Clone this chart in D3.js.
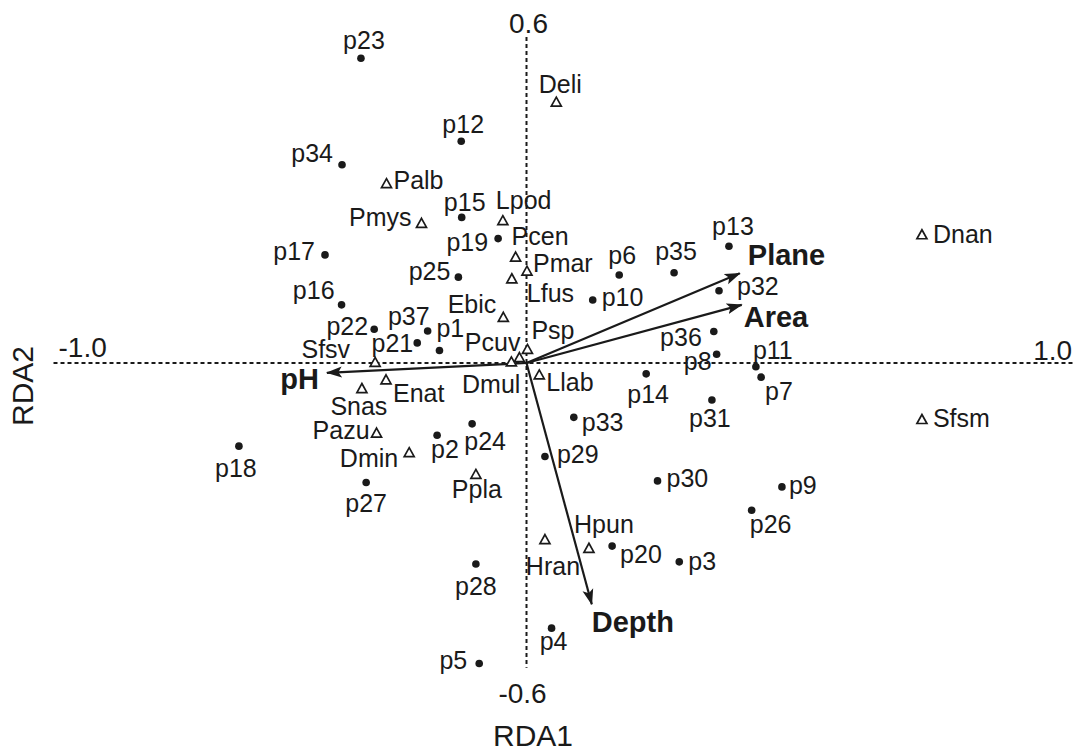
<!DOCTYPE html>
<html>
<head>
<meta charset="utf-8">
<script src="https://cdn.jsdelivr.net/npm/d3@7"></script>
<style>
  html, body { margin: 0; background: #fff; }
  svg { display: block; }
  text { font-family: "Liberation Sans", Arial, Helvetica, sans-serif; fill: #1a1a1a; }
</style>
</head>
<body>
<svg id="chart" width="1075" height="754"></svg>
<script>
// RDA ordination: sites (dots), species (triangles), environmental variables (arrows)

const axisTitles = ["RDA1", "RDA2"];
const axisEndLabels = ["-1.0", "1.0", "0.6", "-0.6"];
const axisExtentX = [-1.0, 1.16];
const axisExtentY = [-0.561, 0.6];

const sites = [
  ["p1", -0.184, 0.023], ["p2", -0.189, -0.133], ["p3", 0.323, -0.366],
  ["p4", 0.053, -0.488], ["p5", -0.100, -0.553], ["p6", 0.196, 0.162],
  ["p7", 0.496, -0.026], ["p8", 0.402, 0.016], ["p9", 0.540, -0.228],
  ["p10", 0.140, 0.116], ["p11", 0.485, -0.007], ["p12", -0.138, 0.408],
  ["p13", 0.428, 0.215], ["p14", 0.253, -0.020], ["p15", -0.137, 0.268],
  ["p16", -0.391, 0.107], ["p17", -0.426, 0.199], ["p18", -0.608, -0.153],
  ["p19", -0.060, 0.229], ["p20", 0.181, -0.337], ["p21", -0.231, 0.037],
  ["p22", -0.322, 0.062], ["p23", -0.350, 0.561], ["p24", -0.115, -0.112],
  ["p25", -0.144, 0.158], ["p26", 0.476, -0.271], ["p27", -0.339, -0.220],
  ["p28", -0.107, -0.370], ["p29", 0.039, -0.172], ["p30", 0.277, -0.217],
  ["p31", 0.392, -0.068], ["p32", 0.407, 0.133], ["p33", 0.100, -0.100],
  ["p34", -0.390, 0.365], ["p35", 0.312, 0.166], ["p36", 0.396, 0.058],
  ["p37", -0.209, 0.059]
];

const species = [
  ["Palb", -0.296, 0.330], ["Pmys", -0.222, 0.257], ["Lpod", -0.050, 0.262],
  ["Pcen", -0.023, 0.195], ["Pmar", 0.001, 0.169], ["Lfus", -0.031, 0.155],
  ["Ebic", -0.049, 0.084], ["Psp", 0.002, 0.025], ["Pcuv", -0.015, 0.010],
  ["Dmul", -0.032, 0.002], ["Llab", 0.027, -0.022], ["Sfsv", -0.320, 0.001],
  ["Enat", -0.297, -0.031], ["Snas", -0.348, -0.047], ["Pazu", -0.317, -0.129],
  ["Dmin", -0.248, -0.165], ["Ppla", -0.107, -0.205], ["Hran", 0.039, -0.325],
  ["Hpun", 0.132, -0.341], ["Deli", 0.063, 0.480], ["Dnan", 0.836, 0.236],
  ["Sfsm", 0.836, -0.104]
];

const envVars = [
  ["Plane", 0.451, 0.165], ["Area", 0.455, 0.107],
  ["pH", -0.422, -0.018], ["Depth", 0.138, -0.444]
];

// label placement relative to each mark: [text-anchor, dx, dy(baseline)]
const labelPlacement = {
  p1: ["start", -3, -14], p2: ["start", -6, 23], p3: ["start", 9, 8],
  p4: ["middle", 2, 22], p5: ["end", -12, 6], p6: ["middle", 3, -11],
  p7: ["start", 4, 23], p8: ["end", -5, 16], p9: ["start", 7, 7],
  p10: ["start", 9, 6], p11: ["start", -3, -8], p12: ["middle", 2, -8],
  p13: ["middle", 4, -11], p14: ["middle", 2, 29], p15: ["middle", 3, -6],
  p16: ["end", -7, -6], p17: ["end", -10, 5], p18: ["middle", -3, 31],
  p19: ["end", -10, 12], p20: ["start", 8, 17], p21: ["end", -4, 9],
  p22: ["end", -6, 6], p23: ["middle", 3, -9], p24: ["middle", 13, 26],
  p25: ["end", -8, 3], p26: ["middle", 19, 23], p27: ["middle", 0, 29],
  p28: ["middle", 0, 31], p29: ["start", 12, 7], p30: ["start", 9, 6],
  p31: ["middle", -2, 27], p32: ["start", 18, 4], p33: ["start", 8, 14],
  p34: ["end", -9, -3], p35: ["middle", 2, -13], p36: ["end", -12, 15],
  p37: ["end", 2, -6],
  Palb: ["start", 7, 5], Pmys: ["end", -10, 3], Lpod: ["start", -7, -12],
  Pcen: ["start", -4, -12], Pmar: ["start", 6, 1], Lfus: ["start", 15, 23],
  Ebic: ["end", -7, -4], Psp: ["start", 4, -10], Pcuv: ["end", 1, -7],
  Dmul: ["end", 9, 31], Llab: ["start", 7, 16], Sfsv: ["end", -25, -4],
  Enat: ["start", 7, 22], Snas: ["middle", -3, 26], Pazu: ["end", -7, 6],
  Dmin: ["end", -11, 14], Ppla: ["middle", 1, 24], Hran: ["middle", 8, 35],
  Hpun: ["middle", 15, -15], Deli: ["middle", 4, -9], Dnan: ["start", 11, 8],
  Sfsm: ["start", 11, 7],
  Plane: ["start", 8, -8], Area: ["start", 2, 22], pH: ["end", -8, 16],
  Depth: ["start", 0, 28]
};

const svg = d3.select("#chart");
const x = d3.scaleLinear().domain([-1, 1]).range([53.5, 999.5]);
const y = d3.scaleLinear().domain([-0.6, 0.6]).range([689, 37]);

const labelSize = 25;

// dashed zero axes
svg.append("line")
  .attr("x1", x(axisExtentX[0])).attr("x2", x(axisExtentX[1]))
  .attr("y1", y(0)).attr("y2", y(0))
  .attr("stroke", "#1a1a1a").attr("stroke-width", 2).attr("stroke-dasharray", "4,3");
svg.append("line")
  .attr("x1", x(0)).attr("x2", x(0))
  .attr("y1", y(axisExtentY[1])).attr("y2", y(axisExtentY[0]))
  .attr("stroke", "#1a1a1a").attr("stroke-width", 2).attr("stroke-dasharray", "4,3");

// axis end labels
const endFont = 28;
svg.append("text").text(axisEndLabels[0])
  .attr("x", x(axisExtentX[0]) + 5).attr("y", y(0) - 6)
  .attr("font-size", endFont);
svg.append("text").text(axisEndLabels[1])
  .attr("x", x(axisExtentX[1]) - 3).attr("y", y(0) - 3)
  .attr("text-anchor", "end").attr("font-size", endFont);
svg.append("text").text(axisEndLabels[2])
  .attr("x", x(0) + 2).attr("y", y(axisExtentY[1]) - 4)
  .attr("text-anchor", "middle").attr("font-size", endFont);
svg.append("text").text(axisEndLabels[3])
  .attr("x", x(0) - 4).attr("y", y(axisExtentY[0]) + 35)
  .attr("text-anchor", "middle").attr("font-size", endFont);

// axis titles
svg.append("text").text(axisTitles[0])
  .attr("x", 533).attr("y", 746)
  .attr("text-anchor", "middle").attr("font-size", 30);
svg.append("text").text(axisTitles[1])
  .attr("transform", "translate(33,386) rotate(-90)")
  .attr("text-anchor", "middle").attr("font-size", 30);

// arrowhead
svg.append("defs").append("marker")
  .attr("id", "head")
  .attr("viewBox", "0 -6 16 12")
  .attr("refX", 15).attr("refY", 0)
  .attr("markerWidth", 16).attr("markerHeight", 12)
  .attr("markerUnits", "userSpaceOnUse")
  .attr("orient", "auto")
  .append("path")
  .attr("d", "M0,-5.5 L16,0 L0,5.5 L3.5,0 Z")
  .attr("fill", "#1a1a1a");

// environmental arrows
const env = svg.append("g");
env.selectAll("line").data(envVars).join("line")
  .attr("x1", x(0)).attr("y1", y(0))
  .attr("x2", d => x(d[1])).attr("y2", d => y(d[2]))
  .attr("stroke", "#1a1a1a").attr("stroke-width", 2.2)
  .attr("marker-end", "url(#head)");
env.selectAll("text").data(envVars).join("text")
  .text(d => d[0])
  .attr("x", d => x(d[1]) + labelPlacement[d[0]][1])
  .attr("y", d => y(d[2]) + labelPlacement[d[0]][2])
  .attr("text-anchor", d => labelPlacement[d[0]][0])
  .attr("font-size", 29).attr("font-weight", "bold");

// species: open triangles
const sp = svg.append("g");
sp.selectAll("path").data(species).join("path")
  .attr("transform", d => `translate(${x(d[1])},${y(d[2])})`)
  .attr("d", "M0,-5 L5,4 L-5,4 Z")
  .attr("fill", "#fff").attr("stroke", "#1a1a1a").attr("stroke-width", 1.7)
  .attr("stroke-linejoin", "miter");
sp.selectAll("text").data(species).join("text")
  .text(d => d[0])
  .attr("x", d => x(d[1]) + labelPlacement[d[0]][1])
  .attr("y", d => y(d[2]) + labelPlacement[d[0]][2])
  .attr("text-anchor", d => labelPlacement[d[0]][0])
  .attr("font-size", labelSize);

// sites: filled dots
const st = svg.append("g");
st.selectAll("circle").data(sites).join("circle")
  .attr("cx", d => x(d[1])).attr("cy", d => y(d[2]))
  .attr("r", 3.8).attr("fill", "#1a1a1a");
st.selectAll("text").data(sites).join("text")
  .text(d => d[0])
  .attr("x", d => x(d[1]) + labelPlacement[d[0]][1])
  .attr("y", d => y(d[2]) + labelPlacement[d[0]][2])
  .attr("text-anchor", d => labelPlacement[d[0]][0])
  .attr("font-size", labelSize);
</script>
</body>
</html>
